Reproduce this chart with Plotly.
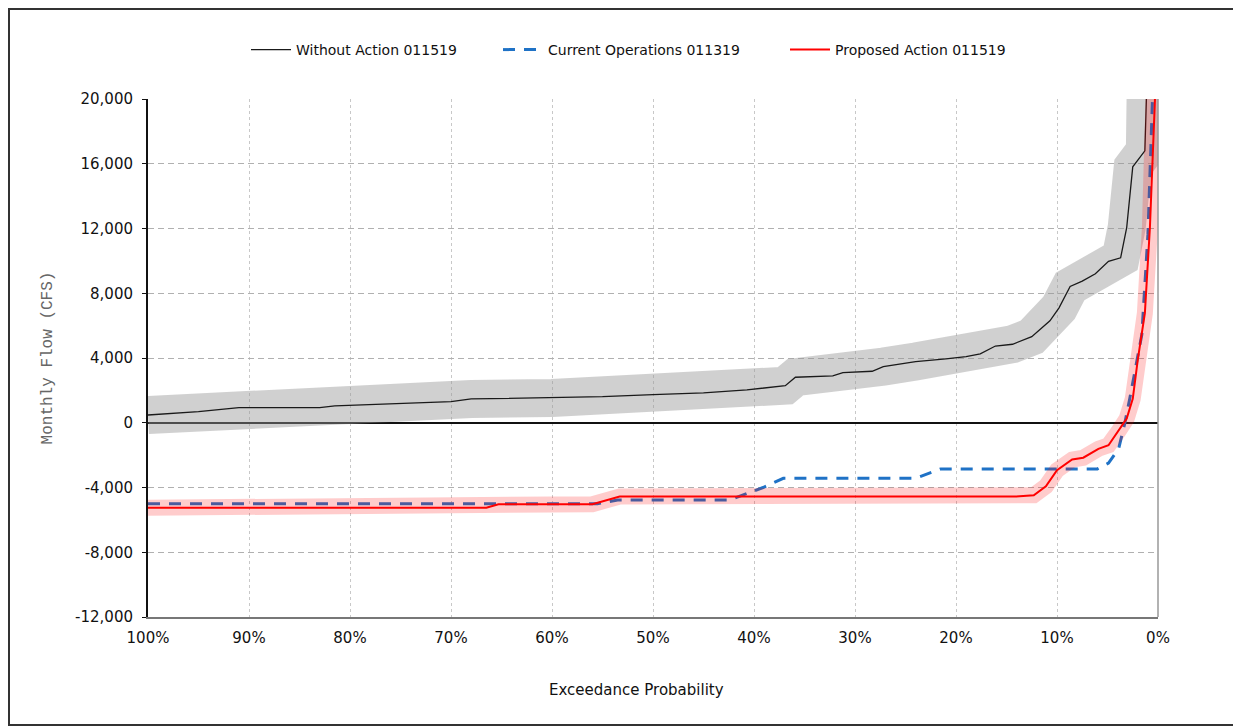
import plotly.graph_objects as go

# ---- data ----
p_without = [100, 95, 91, 83, 81.5, 70, 68, 60, 55, 50, 45, 40.7, 37.5, 36.9, 35.9, 32.2, 31.2,
             28.3, 27.2, 24, 21, 19, 17.6, 16.1, 14.4, 12.5, 10.7, 9.8, 8.7, 7.5, 6.2, 4.9, 3.7,
             3.1, 2.5, 1.3, 1.15, 0.8]
v_without = [480, 690, 930, 930, 1040, 1300, 1470, 1530, 1610, 1740, 1850, 2030, 2250, 2290, 2810,
             2890, 3100, 3180, 3470, 3780, 3950, 4080, 4250, 4740, 4850, 5320, 6300, 7100, 8420,
             8750, 9200, 9970, 10190, 12060, 15810, 16800, 20000, 40000]

p_current = [100, 55.5, 53.5, 42.4, 39.1, 37.1, 24, 21.5, 6.0, 4.9, 3.9, 3.3, 2.8, 1.6, 1.0, 0.5, 0]
v_current = [-5000, -5000, -4770, -4770, -4000, -3430, -3430, -2850, -2850, -2490, -1610, -70,
             1480, 5450, 11620, 18680, 30000]

p_proposed = [100, 66.5, 65.3, 56, 53.3, 14.1, 12.3, 11.1, 10, 8.5, 7.4, 5.9, 4.9, 3.9, 3.1, 2.5,
              2.0, 1.3, 0.8, 0.3, 0]
v_proposed = [-5250, -5250, -5030, -5030, -4560, -4560, -4480, -3925, -2930, -2270, -2160, -1610,
              -1390, -510, 260, 1480, 3900, 6770, 12060, 20000, 30000]

names = ["Without Action 011519", "Current Operations 011319", "Proposed Action 011519"]

x_tickvals = [100, 90, 80, 70, 60, 50, 40, 30, 20, 10, 0]
x_ticktext = ["100%", "90%", "80%", "70%", "60%", "50%", "40%", "30%", "20%", "10%", "0%"]
y_tickvals = [20000, 16000, 12000, 8000, 4000, 0, -4000, -8000, -12000]
y_ticktext = ["20,000", "16,000", "12,000", "8,000", "4,000", "0", "-4,000", "-8,000", "-12,000"]

FONT = "DejaVu Sans, Liberation Sans, Arial, sans-serif"

# page is offset by the default 8px body margin; figure sized to fit the window
W, H = 1233, 719
L, T, PW, PH = 140, 91, 1010, 518


def px(page_x):
    return (page_x - 8 - L) / PW


def py(page_y):
    return (T + PH - (page_y - 8)) / PH


fig = go.Figure()
fig.add_trace(go.Scatter(x=p_without, y=v_without, mode="lines", showlegend=False, hoverinfo="skip",
                         line=dict(color="rgba(150,150,150,0.45)", width=38)))
fig.add_trace(go.Scatter(x=p_without, y=v_without, mode="lines", name=names[0], legend="legend",
                         line=dict(color="#1a1a1a", width=1.3)))
fig.add_trace(go.Scatter(x=p_current, y=v_current, mode="lines", name=names[1], legend="legend2",
                         line=dict(color="#1f72c6", width=3, dash="12px,9px")))
fig.add_trace(go.Scatter(x=p_proposed, y=v_proposed, mode="lines", showlegend=False, hoverinfo="skip",
                         line=dict(color="rgba(255,0,0,0.2)", width=16)))
fig.add_trace(go.Scatter(x=p_proposed, y=v_proposed, mode="lines", name=names[2], legend="legend3",
                         line=dict(color="#ff0000", width=2)))

leg_common = dict(orientation="h", yanchor="middle", xanchor="left", y=py(50),
                  font=dict(family=FONT, size=14, color="#111"), itemwidth=40,
                  bgcolor="rgba(0,0,0,0)")

fig.update_layout(
    width=W, height=H,
    margin=dict(l=L, r=W - L - PW, t=T, b=H - T - PH),
    paper_bgcolor="white", plot_bgcolor="white",
    font=dict(family=FONT, size=15, color="#111"),
    legend=dict(x=px(246), **leg_common),
    legend2=dict(x=px(498), **leg_common),
    legend3=dict(x=px(785), **leg_common),
    xaxis=dict(range=[100, 0], tickvals=x_tickvals, ticktext=x_ticktext,
               showgrid=True, gridcolor="#c8c8c8", griddash="3px,3px", gridwidth=1,
               showline=True, linecolor="#777", linewidth=1.5, zeroline=False,
               ticks="outside", ticklen=6, tickcolor="rgba(0,0,0,0)",
               tickfont=dict(family=FONT, size=15, color="#111")),
    yaxis=dict(range=[-12000, 20000], tickvals=y_tickvals, ticktext=y_ticktext,
               showgrid=True, gridcolor="#b0b0b0", griddash="6px,4px", gridwidth=1,
               showline=True, linecolor="#111", linewidth=2,
               zeroline=True, zerolinecolor="#111", zerolinewidth=1.5,
               ticks="outside", ticklen=4, tickcolor="#111", ticklabelstandoff=6,
               tickfont=dict(family=FONT, size=15, color="#111"),
               title=dict(text="Monthly Flow (CFS)",
                          font=dict(family="Liberation Mono, Courier New, monospace", size=16,
                                    color="#666"),
                          standoff=18)),
    shapes=[
        dict(type="line", xref="paper", yref="paper", x0=1, x1=1, y0=0, y1=1,
             line=dict(color="#999", width=1.5)),
        dict(type="rect", xref="paper", yref="paper",
             x0=px(9), x1=px(1239), y0=py(725), y1=py(9),
             line=dict(color="#333", width=2), fillcolor="rgba(0,0,0,0)"),
    ],
    annotations=[
        dict(text="Exceedance Probability", xref="paper", yref="paper",
             x=px(636), y=py(690), xanchor="center", yanchor="middle",
             showarrow=False, font=dict(family=FONT, size=15, color="#111")),
    ],
)

fig.write_html("out.html")
